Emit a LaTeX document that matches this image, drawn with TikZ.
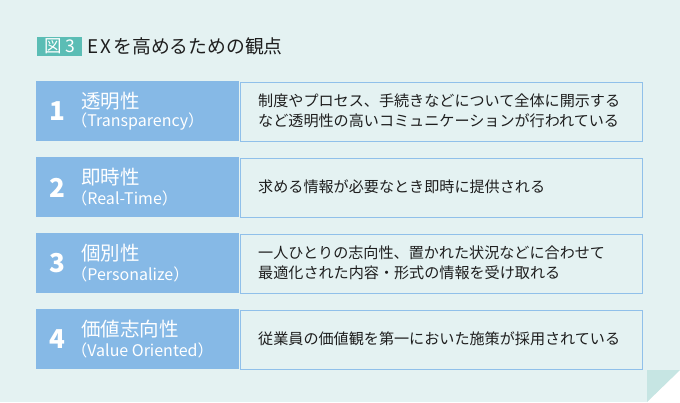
\documentclass[tikz,border=0pt]{standalone}
\usepackage{fontspec}
\setmainfont{Noto Sans CJK JP}
\newfontfamily\jp{Noto Sans CJK JP}
\definecolor{bg}{HTML}{E4F2F2}
\definecolor{fold}{HTML}{C6E5E3}
\definecolor{tag}{HTML}{5BBDB5}
\definecolor{blue}{HTML}{86B9E6}
\definecolor{bline}{HTML}{90C0EA}
\definecolor{ink}{HTML}{1E1E1E}
\tikzset{
  leftbox/.style={fill=blue, draw=none},
  rightbox/.style={fill=bg, draw=bline, line width=1pt},
  num/.style={font=\jp\fontsize{26}{26}\selectfont\bfseries, text=white, inner sep=0},
  head/.style={font=\jp\fontsize{19.5}{20}\selectfont, text=white, anchor=west, inner sep=0},
  sub/.style={font=\jp\fontsize{16}{16}\selectfont, text=white, anchor=west, inner sep=0},
  desc/.style={font=\jp\fontsize{15.1}{20}\selectfont, text=ink, anchor=west, inner sep=0, align=left},
}
\begin{document}
\begin{tikzpicture}[x=1pt,y=-1pt]
\fill[bg] (0,0) rectangle (680,402);
\useasboundingbox (0,0) rectangle (680,402);
% fold
\fill[white] (647,402) -- (680,370) -- (680,402) -- cycle;
\fill[fold] (647,370) -- (680,370) -- (647,402) -- cycle;
% title
\node[fill=tag, minimum width=45pt, minimum height=18.5pt, inner sep=0, anchor=north west, text=white, font=\jp\fontsize{17.5}{17}\selectfont] (tag) at (37,37) {図\kern3pt 3};
\node[anchor=west, inner sep=0, text=ink, font=\jp\fontsize{18.8}{18}\selectfont] (title) at (87.5,46.5) {E\kern2pt X\kern2pt を高めるための観点};
% rows
\foreach \i/\t/\h/\s/\d in {
  1/81/透明性/Transparency/{制度やプロセス、手続きなどについて全体に開示する\\など透明性の高いコミュニケーションが行われている},
  2/157/即時性/Real-Time/{求める情報が必要なとき即時に提供される},
  3/233/個別性/Personalize/{一人ひとりの志向性、置かれた状況などに合わせて\\最適化された内容・形式の情報を受け取れる},
  4/309/価値志向性/Value Oriented/{従業員の価値観を第一においた施策が採用されている}}{
  \node[leftbox, minimum width=203pt, minimum height=60pt, inner sep=0, anchor=north west] (L\i) at (36,\t) {};
  \node[rightbox, minimum width=402pt, minimum height=59pt, inner sep=0, anchor=north west] (R\i) at (240,\t+0.5) {};
  \node[num] (N\i) at (57,\t+30.5) {\i};
  \node[head] (H\i) at (81,\t+20) {\h};
  \node[sub] (S\i) at (80,\t+41) {\kern-0.55em（\s）};
  \node[desc] (D\i) at (258,\t+30) {\d};
}
\end{tikzpicture}
\end{document}
